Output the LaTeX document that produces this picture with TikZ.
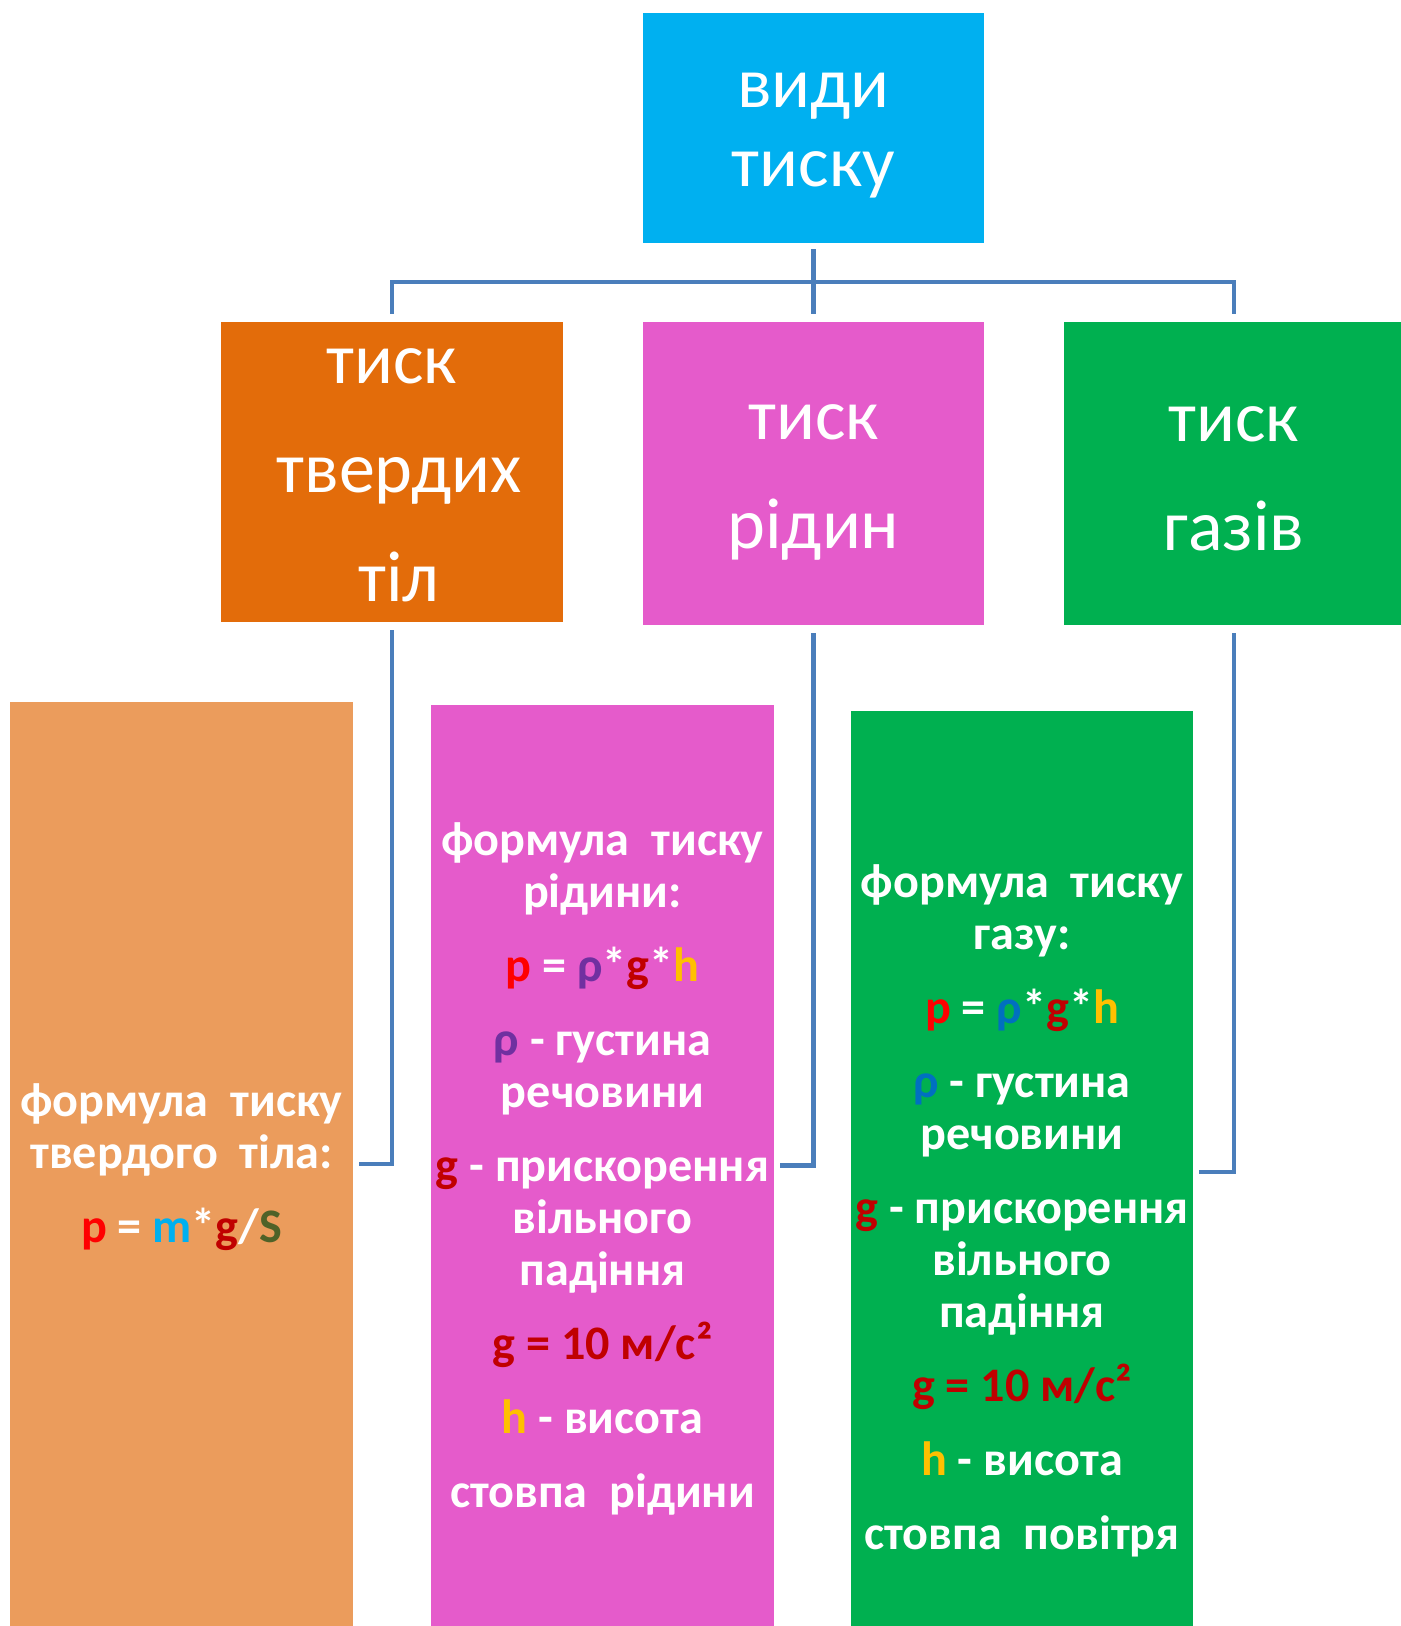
\documentclass[tikz,border=0pt]{standalone}
\usepackage{fontspec}
\setmainfont{Carlito}
\usetikzlibrary{positioning}
\definecolor{skyblue}{HTML}{00B0F0}
\definecolor{darkorange}{HTML}{E36C0A}
\definecolor{lightorange}{HTML}{EB9C5C}
\definecolor{pinkbox}{HTML}{E55BCB}
\definecolor{greenbox}{HTML}{00B050}
\definecolor{linkblue}{HTML}{4A7EBB}
\definecolor{pred}{HTML}{FF0000}
\definecolor{gred}{HTML}{C00000}
\definecolor{rhopurple}{HTML}{7030A0}
\definecolor{rhoblue}{HTML}{0070C0}
\definecolor{hgold}{HTML}{FFC000}
\definecolor{sgreen}{HTML}{4F6228}
\begin{document}
\begin{tikzpicture}[x=0.02cm,y=-0.02cm,
    box/.style={fill=#1, inner sep=0pt},
    title/.style={text=white, inner sep=0pt, align=center, font=\fontsize{41}{45}\selectfont},
    kind/.style={text=white, inner sep=0pt, align=center, font=\fontsize{41}{62}\selectfont},
    note/.style={text=white, inner sep=0pt, align=center, font=\fontsize{27.4}{29.6}\selectfont\bfseries},
    link/.style={draw=linkblue, line width=2.4pt}]
    \useasboundingbox (0,0) rectangle (1400,1626);
    % top
    \node[box=skyblue, minimum width=6.82cm, minimum height=4.6cm] (top) at (813.5,128) {};
    \node[title, yshift=-4.5pt] (toptxt) at (top.center) {види\\тиску};
    % kinds of pressure
    \node[box=darkorange, minimum width=6.84cm, minimum height=6cm] (solid) at (392,472) {};
    \node[box=pinkbox, minimum width=6.82cm, minimum height=6.06cm] (liquid) at (813.5,473.5) {};
    \node[box=greenbox, minimum width=6.8cm, minimum height=6.06cm] (gas) at (1234,473.5) {};
    \node[kind, yshift=-2pt] (solidtxt) at (solid.center) {тиск\\\hspace*{8pt}твердих\\\hspace*{8pt}тіл};
    \node[kind, yshift=-5pt] (liquidtxt) at (liquid.center) {тиск\\рідин};
    \node[kind, yshift=-3pt] (gastxt) at (gas.center) {тиск\\газів};
    % formula boxes
    \node[box=lightorange, minimum width=6.86cm, minimum height=18.48cm] (solidf) at (181.5,1164) {};
    \node[box=pinkbox, minimum width=6.86cm, minimum height=18.42cm] (liquidf) at (602.5,1165.5) {};
    \node[box=greenbox, minimum width=6.84cm, minimum height=18.44cm] (gasf) at (1022,1172) {};
    \node[note, yshift=-2pt] (solidnote) at (solidf.center) {формула\ \ тиску\\твердого\ \ тіла:\\[12.5pt]
        \textcolor{pred}{p} = \textcolor{skyblue}{m}*\textcolor{gred}{g}/\textcolor{sgreen}{S}};
    \node[note, yshift=-2pt] (liquidnote) at (liquidf.center) {формула\ \ тиску\\рідини:\\[12.5pt]
        \textcolor{pred}{p} = \textcolor{rhopurple}{ρ}*\textcolor{gred}{g}*\textcolor{hgold}{h}\\[12.5pt]
        \textcolor{rhopurple}{ρ} - густина\\речовини\\[12.5pt]
        \textcolor{gred}{g} - прискорення\\вільного\\падіння\\[12.5pt]
        \textcolor{gred}{g = 10 м/с²}\\[12.5pt]
        \textcolor{hgold}{h} - висота\\[12.5pt]
        стовпа\ \ рідини};
    \node[note, yshift=-22pt] (gasnote) at (gasf.center) {формула\ \ тиску\\газу:\\[12.5pt]
        \textcolor{pred}{p} = \textcolor{rhoblue}{ρ}*\textcolor{gred}{g}*\textcolor{hgold}{h}\\[12.5pt]
        \textcolor{rhoblue}{ρ} - густина\\речовини\\[12.5pt]
        \textcolor{gred}{g} - прискорення\\вільного\\падіння\\[12.5pt]
        \textcolor{gred}{g = 10 м/с²}\\[12.5pt]
        \textcolor{hgold}{h} - висота\\[12.5pt]
        стовпа\ \ повітря};
    % connectors
    \draw[link, shorten <=3.4pt, shorten >=4.5pt] (top.south) -- ++(0,39) -| (solid.north);
    \draw[link, shorten <=3.4pt, shorten >=4.5pt] (top.south) -- (liquid.north);
    \draw[link, shorten <=3.4pt, shorten >=4.5pt] (top.south) -- ++(0,39) -| (gas.north);
    \draw[link, shorten <=4.5pt, shorten >=3.4pt] (solid.south) |- (solidf.east);
    \draw[link, shorten <=4.5pt, shorten >=3.4pt] (liquid.south) |- (liquidf.east);
    \draw[link, shorten <=4.5pt, shorten >=3.4pt] (gas.south) |- (gasf.east);
\end{tikzpicture}
\end{document}
